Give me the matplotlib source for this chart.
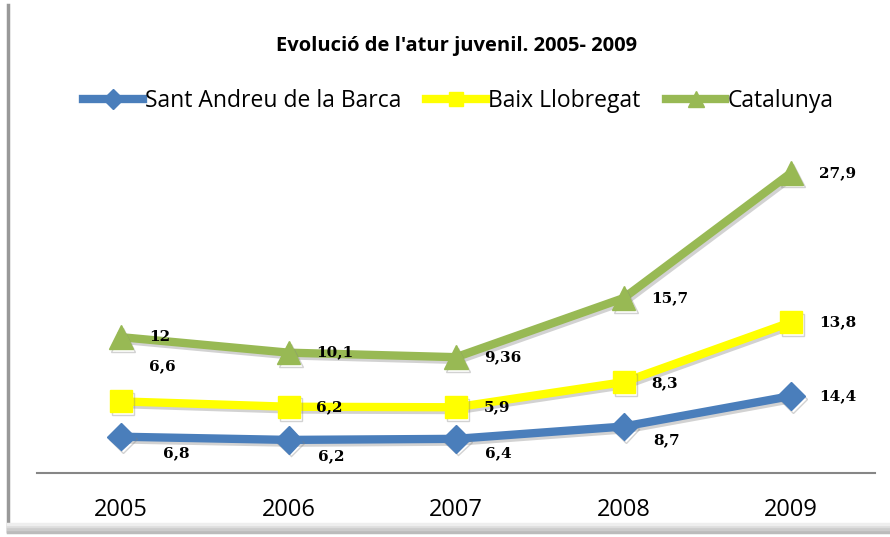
import matplotlib.pyplot as plt
import matplotlib.patheffects as pe
import numpy as np
from matplotlib.lines import Line2D

# Dati (valori delle etichette, disegnati come linee impilate)
anys = ["2005", "2006", "2007", "2008", "2009"]
sant_andreu = [6.8, 6.2, 6.4, 8.7, 14.4]
baix_llobregat = [6.6, 6.2, 5.9, 8.3, 13.8]
catalunya = [12, 10.1, 9.36, 15.7, 27.9]
etiquetes_sa = ["6,8", "6,2", "6,4", "8,7", "14,4"]
etiquetes_bl = ["6,6", "6,2", "5,9", "8,3", "13,8"]
etiquetes_cat = ["12", "10,1", "9,36", "15,7", "27,9"]

blau = "#4A7EBB"
groc = "#FFFF00"
verd = "#98B954"

x = np.arange(len(anys))
s1 = np.array(sant_andreu)
s2 = s1 + np.array(baix_llobregat)
s3 = s2 + np.array(catalunya)

fig = plt.figure(figsize=(8.9, 5.37), dpi=100)
ax = fig.add_axes([0.042, 0.119, 0.941, 0.598])

ombra = [pe.SimpleLineShadow(offset=(1.5, -2), shadow_color="gray", alpha=0.35), pe.Normal()]

ax.plot(x, s1, color=blau, lw=6, marker="D", markersize=14, markeredgecolor=blau,
        solid_joinstyle="round", path_effects=ombra, zorder=3)
ax.plot(x, s2, color=groc, lw=6, marker="s", markersize=16, markeredgecolor=groc,
        solid_joinstyle="round", path_effects=ombra, zorder=3)
ax.plot(x, s3, color=verd, lw=6, marker="^", markersize=17, markeredgecolor=verd,
        solid_joinstyle="round", path_effects=ombra, zorder=3)

# offsets (punts) de les etiquetes
off_sa = [(30, -12), (21, -12), (21, -10), (21, -10), (20, 0)]
off_bl = [(20, 25), (20, 0), (20, 0), (20, -1), (20, 0)]
off_cat = [(20, 0), (20, 0), (20, 0), (20, 0), (20, 0)]
font_et = dict(family="DejaVu Serif", fontsize=11, fontweight="bold", color="black")
for i in range(len(anys)):
    ax.annotate(etiquetes_sa[i], (x[i], s1[i]), xytext=off_sa[i], textcoords="offset points",
                ha="left", va="center", **font_et)
    ax.annotate(etiquetes_bl[i], (x[i], s2[i]), xytext=off_bl[i], textcoords="offset points",
                ha="left", va="center", **font_et)
    ax.annotate(etiquetes_cat[i], (x[i], s3[i]), xytext=off_cat[i], textcoords="offset points",
                ha="left", va="center", **font_et)

ax.set_xlim(-0.5, len(anys) - 0.5)
ax.set_ylim(0, 60)
ax.set_xticks(x)
ax.set_xticklabels(anys, fontsize=17, family="Open Sans")
ax.tick_params(axis="x", length=0, pad=18)
ax.set_yticks([])
for lloc in ["top", "right", "left"]:
    ax.spines[lloc].set_visible(False)
ax.spines["bottom"].set_color("#868686")
ax.spines["bottom"].set_linewidth(1.5)

fig.text(0.513, 0.915, "Evolució de l'atur juvenil. 2005- 2009", ha="center", va="center",
         fontsize=14.5, fontweight="bold", family="Open Sans")

handles = [
    Line2D([], [], color=blau, lw=6, marker="D", markersize=10),
    Line2D([], [], color=groc, lw=6, marker="s", markersize=10),
    Line2D([], [], color=verd, lw=6, marker="^", markersize=11),
]
fig.legend(handles, ["Sant Andreu de la Barca", "Baix Llobregat", "Catalunya"],
           loc="center", bbox_to_anchor=(0.515, 0.812), ncol=3, frameon=False,
           prop={"family": "Open Sans", "size": 16.5}, handlelength=2.6,
           handletextpad=0.1, columnspacing=1.1)

# marc gris del gràfic
fig.add_artist(Line2D([0.009, 0.009], [0.012, 0.99], color="#999999", lw=2.5))
for k, c in enumerate(["#bbbbbb", "#cccccc", "#dddddd", "#eeeeee"]):
    fig.add_artist(Line2D([0.009, 0.998], [0.010 + k * 0.005] * 2, color=c, lw=2.5))

fig.savefig("out.png", dpi=100)
